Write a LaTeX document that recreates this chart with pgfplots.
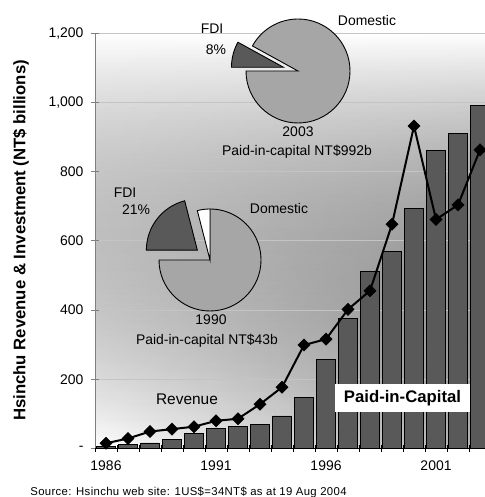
\documentclass[border=0pt]{standalone}
\usepackage{fontspec}
\setmainfont{Liberation Sans}
\usepackage{pgfplots}
\usepackage{pgfplotstable}
\pgfplotsset{compat=1.18}
\usetikzlibrary{fadings}
\definecolor{bardark}{HTML}{595959}
\definecolor{piegray}{HTML}{A6A6A6}
\definecolor{gridgray}{HTML}{C4C4C4}

\pgfplotstableread{
year cap rev
1986 6 15
1987 12 29
1988 16 49
1989 27 56
1990 43 63
1991 57 80
1992 65 86
1993 69 128
1994 94 177
1995 148 299
1996 258 316
1997 376 402
1998 511 456
1999 569 648
2000 694 932
2001 861 662
2002 911 704
2003 992 863
}\hsinchu

% pie shares (percent)
\def\fdiA{21}\def\othA{4}\def\domA{75}   % 1990
\def\fdiB{8}\def\domB{92}                % 2003

\newcommand{\slice}[6]{%
  \filldraw[fill=#6, draw=black, line width=0.9bp, line join=miter]
    (#1,#2) -- ++(#4:#3) arc[start angle=#4, end angle=#5, radius=#3] -- cycle;}

\begin{document}
\begin{tikzpicture}[x=1bp,y=1bp]
\path[use as bounding box] (0,0) rectangle (485,497);
\fill[left color=white, right color=black!30, path fading=north] (95,48.5) rectangle (491,463.7);
\begin{axis}[
  at={(95bp,48.5bp)}, anchor=south west,
  scale only axis, width=396bp, height=415.2bp,
  xmin=1985.5, xmax=2003.5, ymin=0, ymax=1200,
  axis x line*=bottom, axis y line*=left,
  x axis line style={-, draw=black, line width=0.8bp},
  y axis line style={-, draw=gray, line width=0.8bp},
  xtick={1986,1991,1996,2001},
  major x tick style={draw=none},
  minor xtick={1985.5,1986.5,...,2003.5},
  minor x tick style={draw=black, line width=0.8bp},
  minor tick length=7bp,
  ytick={0,200,...,1200},
  yticklabels={-,200,400,600,800,{1,000},{1,200}},
  y tick style={draw=gray, line width=0.8bp},
  major tick length=8bp,
  tick align=center,
  ymajorgrids, grid style={draw=gridgray, line width=0.8bp},
  tick label style={font=\fontsize{14}{16}\selectfont},
  x tick label style={/pgf/number format/1000 sep={}, /pgf/number format/assume math mode=true, yshift=-5bp},
  y tick label style={xshift=-4bp},
  /pgf/number format/assume math mode=true,
  clip=false,
]
\addplot[ybar, bar width=18.5bp, fill=bardark, draw=black, line width=0.9bp] table[x=year, y=cap] {\hsinchu};
\addplot[black, line width=2bp, mark=square*, mark size=4.3bp, mark options={rotate=45, fill=black, line width=0.5bp}] table[x=year, y=rev] {\hsinchu};
\end{axis}

% ---- 2003 pie ----
\pgfmathsetmacro{\aB}{3.6*\fdiB}
\pgfmathsetmacro{\sB}{180-\aB}
\pgfmathsetmacro{\eB}{180+3.6*\domB}
\slice{298}{426}{52}{180}{\eB}{piegray}
\begin{scope}[shift={(165.6:15)}]
\slice{298}{426}{52}{\sB}{180}{bardark}
\end{scope}
% ---- 1990 pie ----
\pgfmathsetmacro{\eA}{180+3.6*\domA}
\pgfmathsetmacro{\oA}{90+3.6*\othA}
\slice{210}{237}{51}{180}{\eA}{piegray}
\slice{210}{237}{51}{90}{\oA}{white}
\begin{scope}[shift={(142.2:16)}]
\slice{210}{237}{51}{\oA}{180}{bardark}
\end{scope}

\begin{scope}[every node/.style={font=\fontsize{14}{16}\selectfont, inner sep=0pt}]
\node at (212,468) {FDI};
\node at (216,447) {8\%};
\node at (367,476) {Domestic};
\node at (298,365) {2003};
\node at (297,345) {Paid-in-capital NT\$992b};
\node at (125,304) {FDI};
\node at (136,287) {21\%};
\node at (279,288) {Domestic};
\node at (211,177) {1990};
\node at (207,156) {Paid-in-capital NT\$43b};
\end{scope}
\node[font=\fontsize{15.5}{17}\selectfont] at (187,98) {Revenue};
\node[fill=white, minimum width=135bp, minimum height=28bp, inner sep=0pt, font=\fontsize{16.8}{18}\selectfont\bfseries] at (402.5,99) {Paid-in-Capital};
\node[rotate=90, font=\fontsize{16.8}{18}\selectfont\bfseries, inner sep=0pt] at (21,256.5) {Hsinchu Revenue \& Investment (NT\$ billions)};
\node[font=\fontsize{11.4}{13}\selectfont\addfontfeatures{LetterSpace=3}, inner sep=0pt] at (188.5,4.5) {Source: Hsinchu web site: 1US\$=34NT\$ as at 19 Aug 2004};
\end{tikzpicture}
\end{document}
